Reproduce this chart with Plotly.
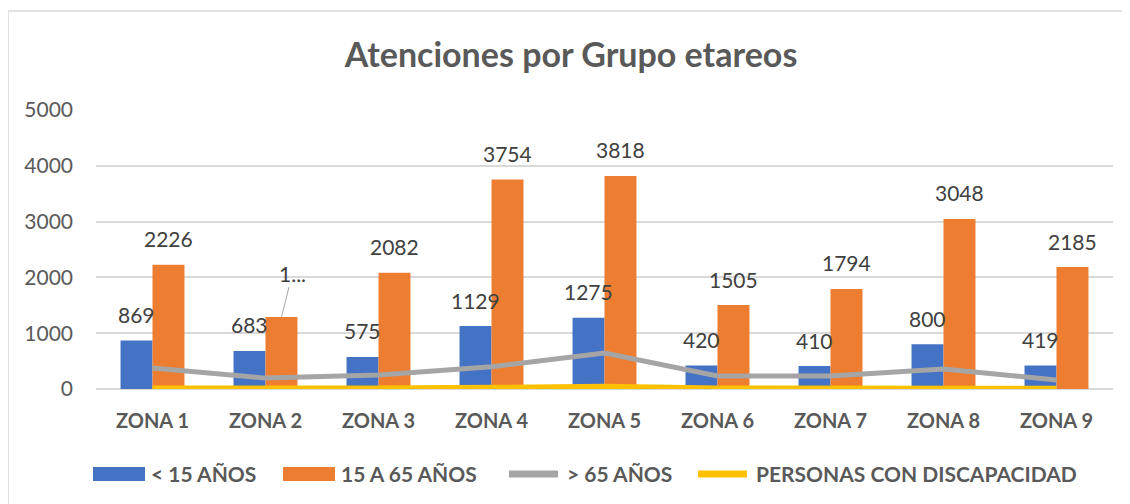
import plotly.graph_objects as go

zonas = ["ZONA 1", "ZONA 2", "ZONA 3", "ZONA 4", "ZONA 5", "ZONA 6", "ZONA 7", "ZONA 8", "ZONA 9"]
menores_15 = [869, 683, 575, 1129, 1275, 420, 410, 800, 419]
de_15_a_65 = [2226, 1290, 2082, 3754, 3818, 1505, 1794, 3048, 2185]
mayores_65 = [375, 195, 250, 400, 645, 235, 235, 360, 160]
discapacidad = [20, 15, 20, 30, 50, 20, 15, 20, 15]
labels_15_65 = ["2226", "1...", "2082", "3754", "3818", "1505", "1794", "3048", "2185"]
series_names = ["< 15 AÑOS", "15 A 65 AÑOS", "> 65 AÑOS", "PERSONAS CON DISCAPACIDAD"]
series_colors = ["#4472C4", "#ED7D31", "#A5A5A5", "#FFC000"]

FONT = "Lato"
TXT = "#595959"
LBL = "#404040"
GRID = "#D9D9D9"

fig = go.Figure()
fig.add_trace(go.Bar(name=series_names[0], x=zonas, y=menores_15, marker_color=series_colors[0],
                     marker_line_width=0))
fig.add_trace(go.Bar(name=series_names[1], x=zonas, y=de_15_a_65, marker_color=series_colors[1],
                     marker_line_width=0))
fig.add_trace(go.Scatter(name=series_names[2], x=zonas, y=mayores_65, mode="lines",
                         line=dict(color=series_colors[2], width=5)))
fig.add_trace(go.Scatter(name=series_names[3], x=zonas, y=discapacidad, mode="lines",
                         line=dict(color=series_colors[3], width=5)))

BW = 0.283
annotations = []
for i, v in enumerate(menores_15):
    annotations.append(dict(x=i - BW / 2, y=v, xref="x", yref="y", text=str(v), showarrow=False,
                            yanchor="middle", yshift=26, font=dict(family=FONT, size=21, color=LBL)))
for i, v in enumerate(de_15_a_65):
    if labels_15_65[i].endswith("..."):
        annotations.append(dict(x=i + BW / 2, y=v, xref="x", yref="y", text=labels_15_65[i],
                                showarrow=True, arrowhead=0, arrowwidth=1, arrowcolor="#A6A6A6",
                                ax=11, ay=-44, standoff=0,
                                font=dict(family=FONT, size=21, color=LBL)))
    else:
        annotations.append(dict(x=i + BW / 2, y=v, xref="x", yref="y", text=labels_15_65[i],
                                showarrow=False, yanchor="middle", yshift=26,
                                font=dict(family=FONT, size=21, color=LBL)))

# page body has an 8px default margin: figure is drawn 8px smaller and shifted
W, H = 1122, 496
ML, MT, PW, PH = 88, 102, 1017, 279


def px(xp):  # page pixel x -> paper
    return (xp - 8 - ML) / PW


def py(yp):  # page pixel y -> paper
    return (MT + PH - (yp - 8)) / PH


shapes = [dict(type="rect", xref="paper", yref="paper", x0=-0.0865, x1=1.2, y0=-0.6,
               y1=py(11), line=dict(color="#D9D9D9", width=1.5), layer="below")]

# legend (drawn as swatches + labels)
leg_sw = [(93, 145), (283, 335), (506, 561), (695, 750)]
leg_y = 474
for k, (a, b) in enumerate(leg_sw):
    if k < 2:
        shapes.append(dict(type="rect", xref="paper", yref="paper", x0=px(a), x1=px(b),
                           y0=py(leg_y + 7), y1=py(leg_y - 7), line_width=0,
                           fillcolor=series_colors[k]))
    else:
        shapes.append(dict(type="line", xref="paper", yref="paper", x0=px(a + 3), x1=px(b - 3),
                           y0=py(leg_y), y1=py(leg_y),
                           line=dict(color=series_colors[k], width=7)))
    annotations.append(dict(x=px(b + 4), y=py(leg_y), xref="paper", yref="paper",
                            text="<b>" + series_names[k] + "</b>", showarrow=False,
                            xanchor="left", yanchor="middle",
                            font=dict(family=FONT, size=21, color=TXT)))

fig.update_layout(
    width=W, height=H,
    margin=dict(l=ML, r=W - ML - PW, t=MT, b=H - MT - PH, autoexpand=False),
    paper_bgcolor="white", plot_bgcolor="white",
    barmode="group", bargap=0.434, bargroupgap=0,
    showlegend=False,
    title=dict(text="<b>Atenciones por Grupo etareos</b>", x=(571 - 8) / W, xanchor="center",
               y=1 - 47 / H, yanchor="middle", yref="container",
               font=dict(family=FONT, size=34, color=TXT)),
    font=dict(family=FONT, color=TXT),
    xaxis=dict(type="category", showgrid=False, showline=False, zeroline=False, ticks="",
               tickfont=dict(family=FONT, size=20, color=TXT), ticklabelstandoff=18,
               tickprefix="<b>", ticksuffix="</b>", automargin=False),
    yaxis=dict(range=[0, 5000], dtick=1000, showgrid=True, gridcolor=GRID, gridwidth=1.5,
               zeroline=True, zerolinecolor=GRID, zerolinewidth=1.5, showline=False, ticks="",
               tickfont=dict(family=FONT, size=21, color=TXT), ticklabelstandoff=22,
               automargin=False),
    annotations=annotations,
    shapes=shapes,
)

fig.write_html("out.html")
